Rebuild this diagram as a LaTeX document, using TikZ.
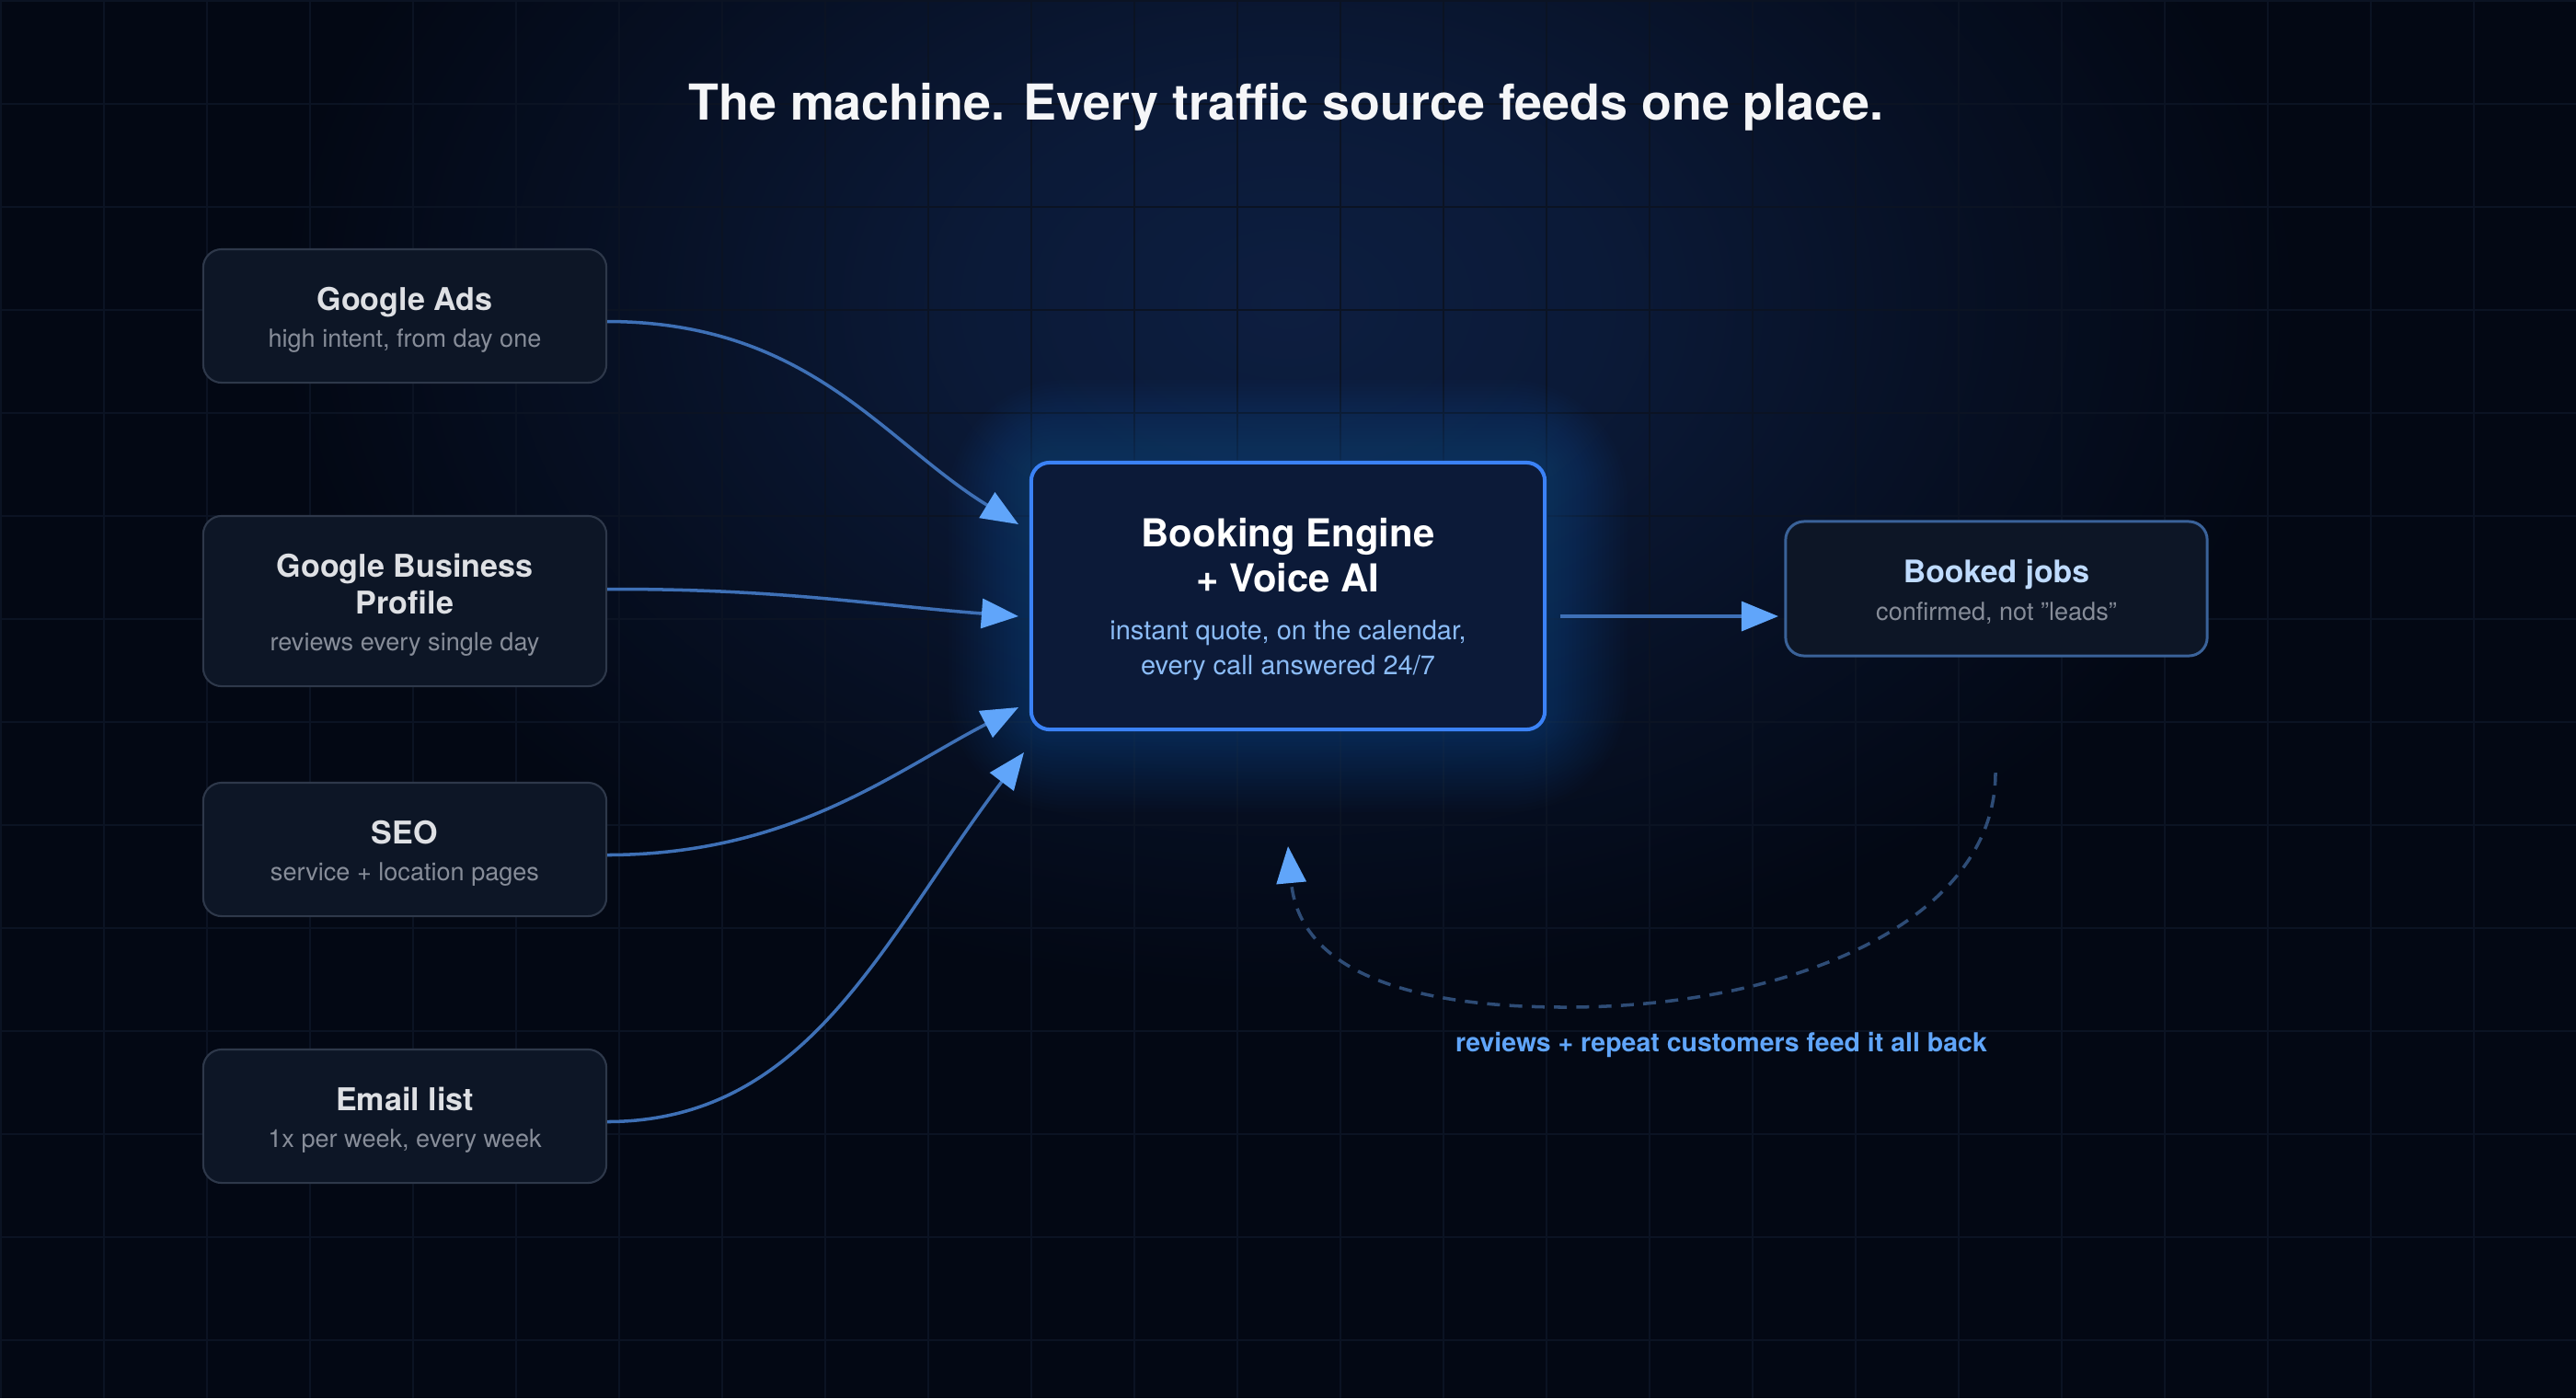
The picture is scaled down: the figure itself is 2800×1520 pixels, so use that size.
\documentclass[tikz,border=0pt]{standalone}
\usepackage{fontspec}
\setmainfont{TeX Gyre Heros}
\usetikzlibrary{arrows.meta,calc}

\definecolor{bgc}{RGB}{3,8,20}
\definecolor{glowc}{RGB}{13,30,64}
\definecolor{gridc}{RGB}{11,19,35}
\definecolor{boxfill}{RGB}{13,22,38}
\definecolor{boxline}{RGB}{46,56,74}
\definecolor{ttlc}{RGB}{222,224,228}
\definecolor{subc}{RGB}{135,141,153}
\definecolor{corefill}{RGB}{12,26,56}
\definecolor{coreline}{RGB}{59,130,246}
\definecolor{coresub}{RGB}{139,188,247}
\definecolor{connc}{RGB}{62,112,182}
\definecolor{tipc}{RGB}{96,165,250}
\definecolor{outline}{RGB}{58,98,153}
\definecolor{outttl}{RGB}{191,219,254}
\definecolor{dashc}{RGB}{46,76,118}
\definecolor{titlec}{RGB}{245,246,248}

\pgfdeclareradialshading{topglow}{\pgfpoint{0bp}{0bp}}{color(0bp)=(glowc); color(8bp)=(glowc!80!bgc); color(17bp)=(glowc!35!bgc); color(25bp)=(bgc); color(50bp)=(bgc)}

\pgfdeclarelayer{bglayer}
\pgfdeclarelayer{glowlayer}
\pgfsetlayers{bglayer,glowlayer,main}

\begin{document}
\begin{tikzpicture}[x=0.01cm,y=-0.01cm,
  srcbox/.style={draw=boxline, line width=0.6pt, fill=boxfill, rounded corners=0.2cm,
    minimum width=4.38cm, inner sep=0pt},
  ttl/.style={font=\bfseries\fontsize{9.7pt}{11pt}\selectfont, text=ttlc, inner sep=0pt, anchor=base},
  sub/.style={font=\fontsize{7.7pt}{9pt}\selectfont, text=subc, inner sep=0pt, anchor=base},
  conn/.style={draw=connc, line width=1pt, -{Triangle[length=11.4pt,width=9.1pt,color=tipc]}},
]
\useasboundingbox (0,0) rectangle (2800,1520);

% background, glow, grid
\begin{pgfonlayer}{bglayer}
  \fill[bgc] (0,0) rectangle (2800,1520);
  \shade[shading=topglow] (1400,330) ellipse [x radius=11cm, y radius=7.5cm];
  \foreach \gx in {0,112,...,2800} \draw[gridc, line width=0.6pt] (\gx+1,0) -- (\gx+1,1520);
  \foreach \gy in {0,112,...,1520} \draw[gridc, line width=0.6pt] (0,\gy+1) -- (2800,\gy+1);
\end{pgfonlayer}

% title
\node[font=\bfseries\fontsize{15.3pt}{17pt}\selectfont, text=titlec, inner sep=0pt, anchor=base]
  (title) at (1398,130) {The machine. Every traffic source feeds one place.};

% source boxes
\node[srcbox, minimum height=1.45cm] (ga)  at (440,343.5) {};
\node[srcbox, minimum height=1.85cm] (gbp) at (440,653.5) {};
\node[srcbox, minimum height=1.45cm] (seo) at (440,923.5) {};
\node[srcbox, minimum height=1.45cm] (em)  at (440,1213.5) {};

\node[ttl] (ga-t) at (440,337) {Google Ads};
\node[sub] (ga-s) at (440,377) {high intent, from day one};
\node[ttl] (gbp-t1) at (440,627) {Google Business};
\node[ttl] (gbp-t2) at (440,667) {Profile};
\node[sub] (gbp-s) at (440,707) {reviews every single day};
\node[ttl] (seo-t) at (440,917) {SEO};
\node[sub] (seo-s) at (440,957) {service + location pages};
\node[ttl] (em-t) at (440,1207) {Email list};
\node[sub] (em-s) at (440,1247) {1x per week, every week};

% core box
\node[draw=coreline, line width=1.15pt, fill=corefill, rounded corners=0.2cm,
  minimum width=5.58cm, minimum height=2.9cm, inner sep=0pt] (core) at (1400,648) {};
\begin{pgfonlayer}{glowlayer}
  \foreach \d in {4,8,...,88} {
    \pgfmathsetmacro\rr{0.2+\d/80}
    \fill[coreline, opacity=0.012, rounded corners=\rr cm]
      ($(core.south west)+(-\d,\d)$) rectangle ($(core.north east)+(\d,-\d)$);
  }
\end{pgfonlayer}
\node[font=\bfseries\fontsize{11.9pt}{13pt}\selectfont, text=white, inner sep=0pt, anchor=base]
  (core-t1) at (1400,594) {Booking Engine};
\node[font=\bfseries\fontsize{11.9pt}{13pt}\selectfont, text=white, inner sep=0pt, anchor=base]
  (core-t2) at (1400,643) {+ Voice AI};
\node[font=\fontsize{8.25pt}{10pt}\selectfont, text=coresub, inner sep=0pt, anchor=base]
  (core-s1) at (1400,695) {instant quote, on the calendar,};
\node[font=\fontsize{8.25pt}{10pt}\selectfont, text=coresub, inner sep=0pt, anchor=base]
  (core-s2) at (1400,733) {every call answered 24/7};

% output box
\node[draw=outline, line width=0.85pt, fill=boxfill, rounded corners=0.2cm,
  minimum width=4.58cm, minimum height=1.46cm, inner sep=0pt] (out) at (2170,640) {};
\node[font=\bfseries\fontsize{9.6pt}{11pt}\selectfont, text=outttl, inner sep=0pt, anchor=base]
  (out-t) at (2170,633) {Booked jobs};
\node[sub] (out-s) at (2170,674) {confirmed, not "leads"};

% connector endpoints
\coordinate (in1) at (1107,570);
\coordinate (in2) at (1107,670);
\coordinate (in3) at (1107,769);
\coordinate (in4) at (1113,818);
\coordinate (o1) at (1696,670);
\coordinate (o2) at (1933,670);
\coordinate (fbs) at (2169,840);
\coordinate (fbe) at (1400,920);

\draw[conn] ($(ga.east)+(0,6)$) .. controls (880,350) and (960,480) .. (in1);
\draw[conn] ($(gbp.east)+(0,-13)$) .. controls (850,640) and (950,658) .. (in2);
\draw[conn] ($(seo.east)+(0,6)$) .. controls (860,929) and (970,840) .. (in3);
\draw[conn] ($(em.east)+(0,6)$) .. controls (880,1219) and (960,1020) .. (in4);
\draw[conn] (o1) -- (o2);

% feedback loop
\draw[conn, draw=dashc, dash pattern=on 4pt off 2.9pt]
  (fbs) .. controls (2169,1000) and (1950,1095) .. (1702,1095)
        .. controls (1480,1095) and (1410,1030) .. (fbe);
\node[font=\bfseries\fontsize{8.1pt}{10pt}\selectfont, text=tipc, inner sep=0pt, anchor=base]
  (fb-lbl) at (1871,1143) {reviews + repeat customers feed it all back};
\end{tikzpicture}
\end{document}
